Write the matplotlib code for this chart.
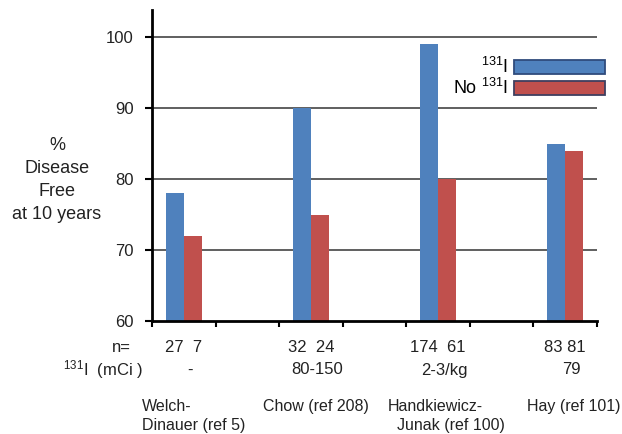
import matplotlib
matplotlib.use("Agg")
import matplotlib.pyplot as plt
from matplotlib.patches import Patch
from matplotlib.transforms import blended_transform_factory

plt.rcParams['font.family'] = ['Liberation Sans', 'DejaVu Sans']
plt.rcParams['mathtext.default'] = 'regular'

# ---- data ----
studies = ["Welch-\nDinauer (ref 5)", "Chow (ref 208)", "Handkiewicz-\n  Junak (ref 100)", "Hay (ref 101)"]
with_i131 = [78, 90, 99, 85]
no_i131 = [72, 75, 80, 84]
n_labels = ["27  7", "32  24", "174  61", "83 81"]
dose_labels = ["-", "80-150", "2-3/kg", "79"]
positions = [0, 2, 4, 6]
yticks = [60, 70, 80, 90, 100]
series_labels = ["$^{131}$I", "No $^{131}$I"]

blue = "#4F81BD"
red = "#C0504D"

W, H = 622, 434
fig = plt.figure(figsize=(W / 100, H / 100), dpi=100)
ax = fig.add_axes([152 / W, 1 - 321 / H, (597 - 152) / W, (321 - 10) / H])

bw = 0.28
ax.bar([p - bw / 2 for p in positions], with_i131, width=bw, color=blue, zorder=3)
ax.bar([p + bw / 2 for p in positions], no_i131, width=bw, color=red, zorder=3)

ax.set_xlim(-0.5, 6.5)
ax.set_ylim(60, 60 + (321 - 10) / 7.1)
ax.set_yticks(yticks)
ax.set_yticklabels([str(v) for v in yticks], fontsize=12, color="#222222")
ax.set_xticks([x + 0.5 for x in range(-1, 7)])
ax.set_xticklabels([])
ax.tick_params(axis='y', direction='out', length=5, width=1.5, pad=8)
ax.tick_params(axis='x', direction='out', length=4, width=1.5)

for v in yticks[1:]:
    ax.axhline(v, color="#444444", lw=1.2, zorder=1)

for s in ['top', 'right']:
    ax.spines[s].set_visible(False)
for s in ['left', 'bottom']:
    ax.spines[s].set_linewidth(2)
    ax.spines[s].set_color('black')
    ax.spines[s].set_zorder(4)

# y label
fig.text(57 / W, 1 - 180 / H, "%\nDisease\nFree\nat 10 years", ha='center', va='center',
         multialignment='center', fontsize=13, linespacing=1.45, color="#222222")

# bottom rows
tr = blended_transform_factory(ax.transData, fig.transFigure)
fig.text(131 / W, 1 - 348 / H, "n=", ha='right', va='center', fontsize=12, color="#222222")
fig.text(143 / W, 1 - 370 / H, "$^{131}$I  (mCi )", ha='right', va='center', fontsize=12, color="#222222")
for p, nl, dl in zip(positions, n_labels, dose_labels):
    ax.text(p, 1 - 348 / H, nl, transform=tr, ha='center', va='center', fontsize=12, color="#222222")
    ax.text(p + 0.1, 1 - 370 / H, dl, transform=tr, ha='center', va='center', fontsize=12, color="#222222")

study_x = [-0.657, 1.246, 3.212, 5.40]
for x, st in zip(study_x, studies):
    ax.text(x, 1 - 399 / H, st, transform=tr, ha='left', va='top',
            multialignment='left', fontsize=11.5, linespacing=1.3, color="#222222")

# legend
handles = [Patch(facecolor=blue, edgecolor="#2F4B7C", lw=1.3),
           Patch(facecolor=red, edgecolor="#3F3F5F", lw=1.3)]
fig.legend(handles, series_labels, loc='upper right', bbox_to_anchor=(605 / W, 1 - 57 / H),
           frameon=False, markerfirst=False, fontsize=13, handlelength=5.05, handleheight=0.78,
           handletextpad=0.3, labelspacing=0.05, borderpad=0, borderaxespad=0)

fig.savefig("out.png", dpi=100)
